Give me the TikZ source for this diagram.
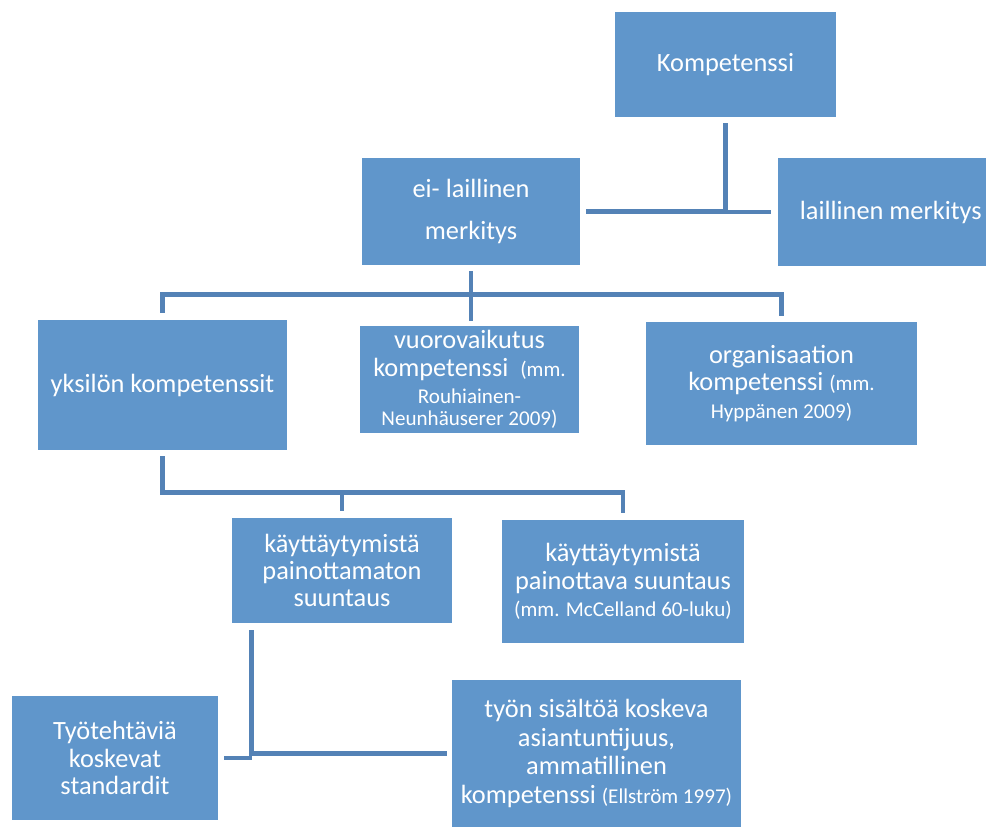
\documentclass[tikz,border=0pt]{standalone}
\usepackage{fontspec}
\setmainfont{Carlito}
\usetikzlibrary{calc}

\definecolor{boxblue}{RGB}{96,150,203}
\definecolor{lineblue}{RGB}{84,130,182}

\newcommand{\pxu}{0.02cm}
\newcommand{\smallref}[1]{{\fontsize{12}{13}\selectfont #1}}

\tikzset{
    kbox/.style={fill=boxblue, text=white, align=center, inner sep=0pt,
        font=\fontsize{15}{15.5}\selectfont},
    conn/.style={draw=lineblue, line width=2.8pt}
}

\begin{document}
\begin{tikzpicture}[x=0.02cm, y=-0.02cm]
    % Fix the page to the size of the picture
    \useasboundingbox (0,0) rectangle (986,827);

    % Top level
    \node[kbox, minimum width=221*\pxu, minimum height=105*\pxu] (komp) at (725.5,64.5) {Kompetenssi};
    \node[kbox, minimum width=218*\pxu, minimum height=107*\pxu,
        font=\fontsize{15}{24.4}\selectfont] (ei) at (471,211.5) {ei- laillinen\\merkitys};
    \node[kbox, minimum width=208*\pxu, minimum height=108*\pxu] (laill) at (882,212) {\hspace{10pt}laillinen merkitys};

    % Second level
    \node[kbox, minimum width=249*\pxu, minimum height=130*\pxu] (yks) at (162.5,385) {yksilön kompetenssit};
    \node[kbox, minimum width=219*\pxu, minimum height=107*\pxu] (vuoro) at (469.5,379.5)
        {vuorovaikutus\\kompetenssi\ \ \smallref{(mm.}\\\smallref{Rouhiainen-}\\[-3pt]\smallref{Neunhäuserer 2009)}};
    \node[kbox, minimum width=271*\pxu, minimum height=123*\pxu] (org) at (781.5,383.5)
        {organisaation\\kompetenssi \smallref{(mm.}\\\smallref{Hyppänen 2009)}};

    % Third level
    \node[kbox, minimum width=220*\pxu, minimum height=105*\pxu] (tamaton) at (342,570.5)
        {käyttäytymistä\\painottamaton\\suuntaus};
    \node[kbox, minimum width=242*\pxu, minimum height=123*\pxu] (tava) at (623,581.5)
        {käyttäytymistä\\painottava suuntaus\\\smallref{(mm. McCelland 60-luku)}};

    % Bottom level
    \node[kbox, minimum width=206*\pxu, minimum height=124*\pxu] (tyot) at (115,758)
        {Työtehtäviä\\koskevat\\standardit};
    \node[kbox, minimum width=289*\pxu, minimum height=147*\pxu,
        font=\fontsize{15}{16.4}\selectfont] (tyon) at (596.5,753.5)
        {työn sisältöä koskeva\\asiantuntijuus,\\ammatillinen\\kompetenssi \smallref{(Ellström 1997)}};

    % Connectors
    \draw[conn] ($(komp.south)+(0,6)$) |- ($(laill.west)+(-7,0)$);
    \draw[conn] ($(ei.east)+(6,0)$) -- (komp.south |- ei.east);

    \coordinate (j1) at ($(ei.south)+(0,29)$);
    \draw[conn] ($(ei.south)+(0,6)$) -- ($(ei.south |- vuoro.north)+(0,-5)$);
    \draw[conn] ($(yks.north)+(0,-7)$) |- (j1) -| ($(org.north)+(0,-6)$);

    \coordinate (j2) at ($(yks.south)+(0,42)$);
    \draw[conn] ($(yks.south)+(0,6)$) |- (j2) -| ($(tava.north)+(0,-7)$);
    \draw[conn] ($(tamaton.north)+(0,-7)$) -- (tamaton.north |- j2);

    \coordinate (j3) at ($(tamaton.south west)+(20,7)$);
    \draw[conn] (j3) |- ($(tyon.west)+(-5,0)$);
    \draw[conn] ($(tyot.east)+(6,0)$) -- (j3 |- tyot.east);

\end{tikzpicture}
\end{document}
